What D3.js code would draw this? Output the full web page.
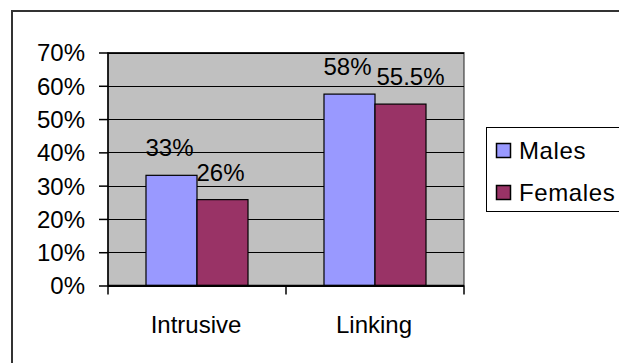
<!DOCTYPE html>
<html>
<head>
<meta charset="utf-8">
<script src="https://cdn.jsdelivr.net/npm/d3@7"></script>
<style>
  html, body { margin: 0; padding: 0; background: #fff; }
  svg { display: block; }
  text { font-family: "Liberation Sans", Arial, sans-serif; fill: #000; }
</style>
</head>
<body>
<svg id="chart" width="619" height="363"></svg>
<script>
// ---- data ----
const categories = ["Intrusive", "Linking"];
const seriesNames = ["Males", "Females"];
const malesValues = [33.1, 57.5];
const femalesValues = [25.8, 54.5];
const malesLabels = ["33%", "58%"];
const femalesLabels = ["26%", "55.5%"];
const yTicks = [0, 10, 20, 30, 40, 50, 60, 70];
const seriesColors = ["#9999FF", "#993366"];

const seriesValues = [malesValues, femalesValues];
const seriesLabels = [malesLabels, femalesLabels];

const svg = d3.select("#chart");

// outer chart border (extends beyond the window on right/bottom)
svg.append("rect")
  .attr("x", 12).attr("y", 11).attr("width", 700).attr("height", 500)
  .attr("fill", "#fff").attr("stroke", "#333").attr("stroke-width", 2);

const plot = { left: 108, right: 464, top: 52.5, bottom: 285.5 };

const y = d3.scaleLinear().domain([0, 70]).range([plot.bottom, plot.top]);
const x0 = d3.scaleBand().domain(categories).range([plot.left, plot.right]);
const x1 = d3.scaleBand().domain(seriesNames).range([0, x0.bandwidth()]).paddingOuter(0.745);

// plot area background
svg.append("rect")
  .attr("x", plot.left).attr("y", plot.top)
  .attr("width", plot.right - plot.left).attr("height", plot.bottom - plot.top)
  .attr("fill", "#C0C0C0").attr("stroke", "#222").attr("stroke-width", 1);

// gridlines
svg.append("g").selectAll("line").data(yTicks).join("line")
  .attr("x1", plot.left).attr("x2", plot.right)
  .attr("y1", d => Math.round(y(d)) + 0.5).attr("y2", d => Math.round(y(d)) + 0.5)
  .attr("stroke", "#000").attr("stroke-width", 1);

// bars
const rows = [];
categories.forEach((c, i) => {
  seriesNames.forEach((s, j) => {
    rows.push({ cat: c, series: s, value: seriesValues[j][i], label: seriesLabels[j][i], color: seriesColors[j], j });
  });
});

svg.append("g").selectAll("rect").data(rows).join("rect")
  .attr("x", d => x0(d.cat) + x1(d.series))
  .attr("y", d => y(d.value))
  .attr("width", x1.bandwidth())
  .attr("height", d => y(0) - y(d.value))
  .attr("fill", d => d.color)
  .attr("stroke", "#000").attr("stroke-width", 1.2);

// data labels
svg.append("g").selectAll("text").data(rows).join("text")
  .attr("x", d => x0(d.cat) + x1(d.series) + x1.bandwidth() / 2 + (d.label.length > 3 ? 10 : -2))
  .attr("y", d => y(d.value) - 19)
  .attr("text-anchor", "middle")
  .attr("font-size", 24)
  .text(d => d.label);

// y axis
const yAxis = svg.append("g")
  .attr("transform", `translate(${plot.left},0)`)
  .call(d3.axisLeft(y).tickValues(yTicks).tickFormat(d => d + "%").tickSize(9).tickPadding(14));
yAxis.selectAll("text").attr("font-size", 24).attr("dy", "0.35em");
yAxis.selectAll("line, path").attr("stroke", "#000").attr("stroke-width", 1.5);
yAxis.select(".domain").attr("d", `M0,${plot.top}V${plot.bottom}`);

// x axis
const xAxisG = svg.append("g").attr("transform", `translate(0,${plot.bottom})`);
xAxisG.append("line")
  .attr("x1", plot.left).attr("x2", plot.right).attr("y1", 0).attr("y2", 0)
  .attr("stroke", "#000").attr("stroke-width", 1.5);
const boundaries = categories.map(c => x0(c)).concat([plot.right]);
xAxisG.selectAll("line.tick").data(boundaries).join("line")
  .attr("class", "tick")
  .attr("x1", d => d).attr("x2", d => d).attr("y1", 0).attr("y2", 9)
  .attr("stroke", "#000").attr("stroke-width", 1.5);
xAxisG.selectAll("text").data(categories).join("text")
  .attr("x", d => x0(d) + x0.bandwidth() / 2 - 1)
  .attr("y", 47)
  .attr("text-anchor", "middle")
  .attr("font-size", 24)
  .text(d => d);

// legend
const legend = svg.append("g");
legend.append("rect")
  .attr("x", 486.5).attr("y", 127.5).attr("width", 200).attr("height", 84)
  .attr("fill", "#fff").attr("stroke", "#000").attr("stroke-width", 1);
const items = legend.selectAll("g.item").data(seriesNames).join("g")
  .attr("class", "item")
  .attr("transform", (d, i) => `translate(496,${143 + i * 42})`);
items.append("rect")
  .attr("x", 0.5).attr("y", 0.5).attr("width", 14).attr("height", 14)
  .attr("fill", (d, i) => seriesColors[i]).attr("stroke", "#000").attr("stroke-width", 1.5);
items.append("text")
  .attr("x", 23).attr("y", 15.5)
  .attr("font-size", 24)
  .attr("letter-spacing", 0.6)
  .text(d => d);
</script>
</body>
</html>
